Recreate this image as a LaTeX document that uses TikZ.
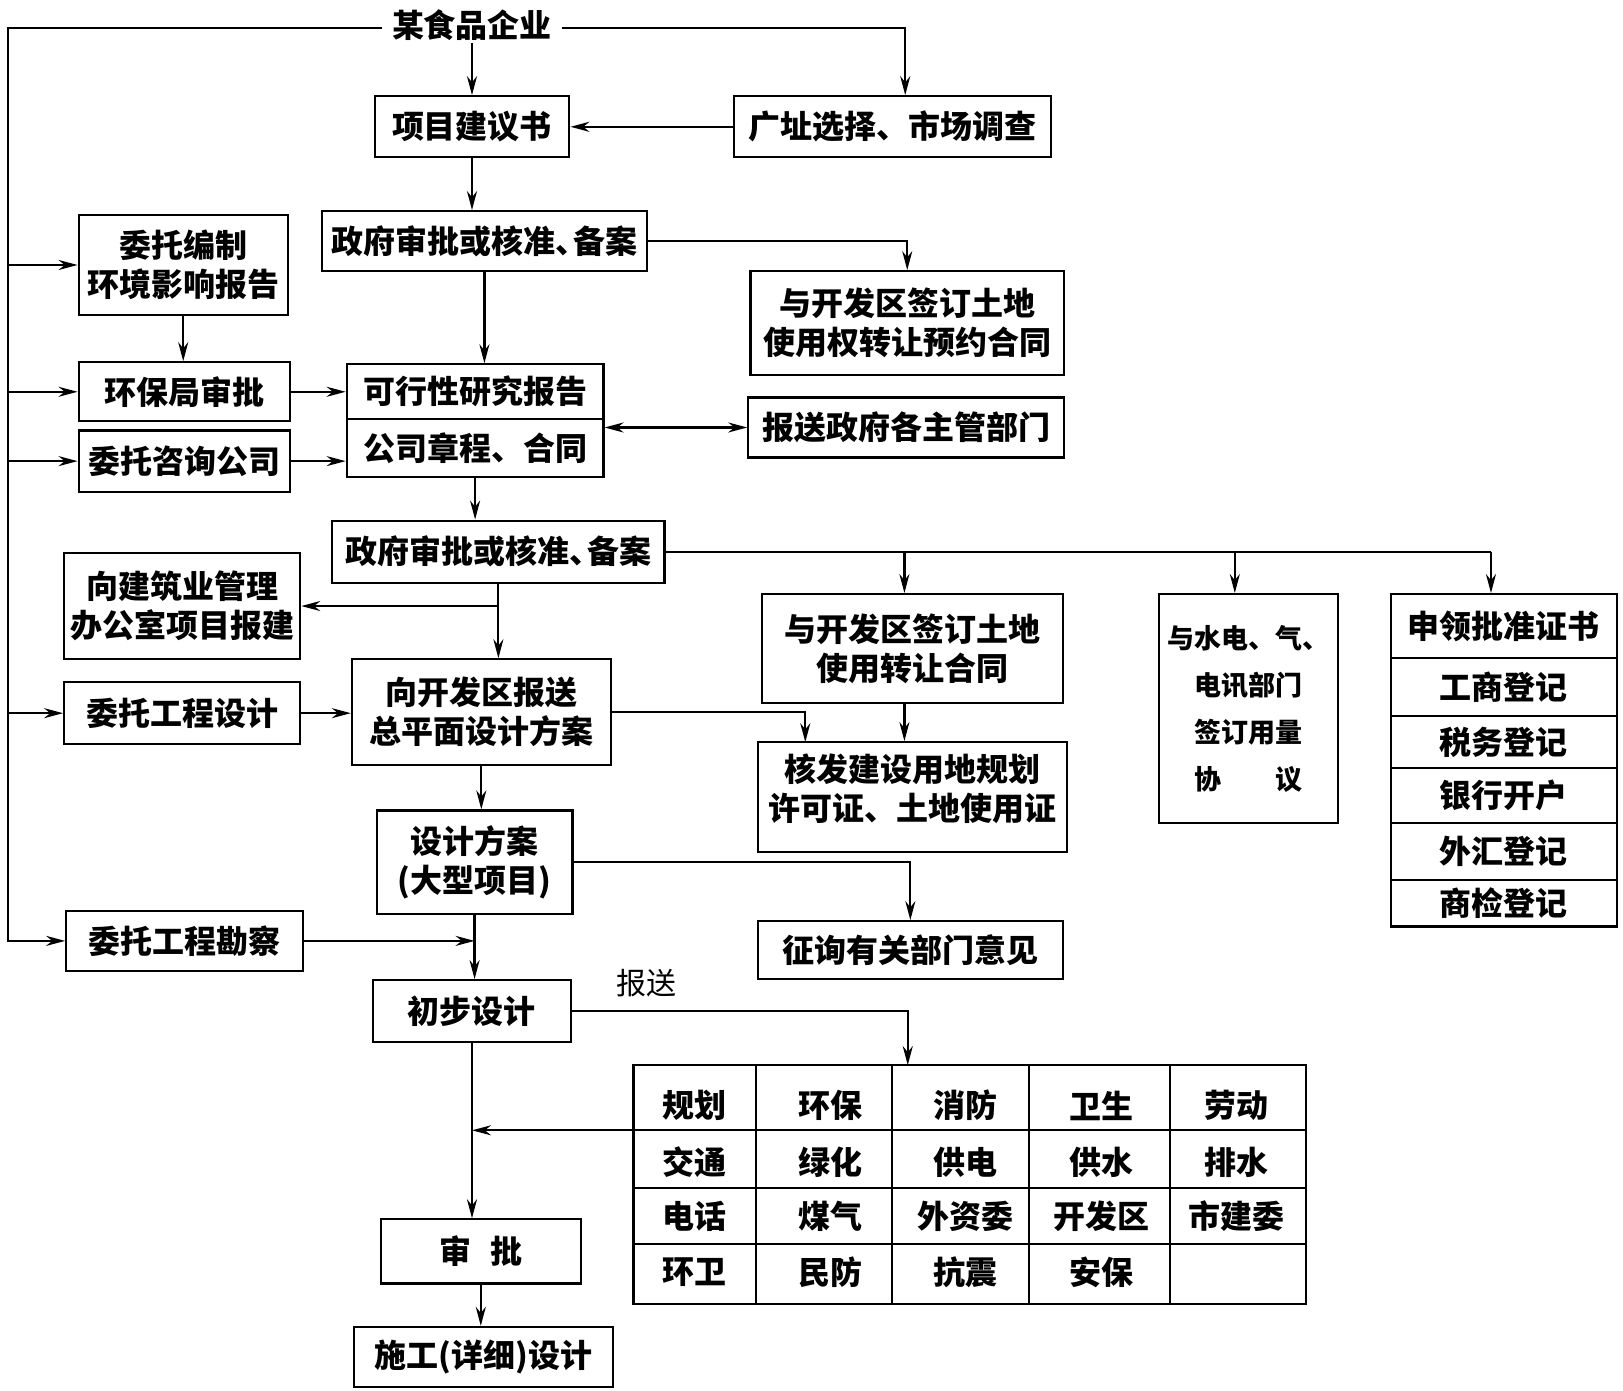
\documentclass[tikz,border=0pt]{standalone}
\usepackage{fontspec}
\setmainfont{Noto Sans CJK SC}
\usetikzlibrary{arrows.meta,fit,calc}
\tikzset{
  box/.style={draw, line width=2.2pt, inner sep=0pt},
  txt/.style={inner sep=0pt, font=\bfseries\fontsize{32}{39}\selectfont},
  mtxt/.style={txt, align=center},
  ln/.style={line width=2.2pt},
  arr/.style={line width=2.2pt, -{Stealth[length=19pt,width=10pt]}},
  arrtwo/.style={line width=2.2pt, {Stealth[length=19pt,width=10pt]}-{Stealth[length=19pt,width=10pt]}},
}
\newcommand{\dun}{、\kern-0.45em}
\begin{document}
\begin{tikzpicture}[x=1.0351pt, y=-1.0351pt]
\fill[white] (0,0) rectangle (1568,1343);
\useasboundingbox (0,0) rectangle (1568,1343);

% title
\node[txt, inner xsep=10pt, inner ysep=2pt] (t) at (456,24) {某食品企业};

% boxes
\node[box, fit={(362,93) (550,152)}] (xm) {};
\node[box, fit={(709,93) (1015,152)}] (gz) {};
\node[box, fit={(311,204) (625,262)}] (g1) {};
\node[box, fit={(725,262) (1028,362)}] (yk1) {};
\node[box, fit={(76,208) (278,304)}] (hp) {};
\node[box, fit={(76,350) (280,407)}] (hb) {};
\node[box, fit={(76,416) (280,475)}] (zx) {};
\node[box, fit={(335,352) (583,405)}] (kx) {};
\node[box, fit={(335,405) (583,461)}] (gs) {};
\node[box, fit={(723,384) (1028,442)}] (bz) {};
\node[box, fit={(321,503) (642,563)}] (g2) {};
\node[box, fit={(62,534) (290,637)}] (jz) {};
\node[box, fit={(62,659) (290,719)}] (wd) {};
\node[box, fit={(340,637) (590,739)}] (xk) {};
\node[box, fit={(736,574) (1027,679)}] (yk2) {};
\node[box, fit={(732,717) (1031,823)}] (hf) {};
\node[box, fit={(1120,574) (1293,795)}] (sd) {};
\node[box, fit={(1344,574) (1562,636)}] (s1) {};
\node[box, fit={(1344,636) (1562,692)}] (s2) {};
\node[box, fit={(1344,692) (1562,742)}] (s3) {};
\node[box, fit={(1344,742) (1562,795)}] (s4) {};
\node[box, fit={(1344,795) (1562,850)}] (s5) {};
\node[box, fit={(1344,850) (1562,895)}] (s6) {};
\node[box, fit={(364,783) (553,883)}] (sj) {};
\node[box, fit={(732,890) (1027,946)}] (zq) {};
\node[box, fit={(64,880) (293,938)}] (kc) {};
\node[box, fit={(360,947) (552,1007)}] (cb) {};
\node[box, fit={(368,1178) (561,1240)}] (sp) {};
\node[box, fit={(342,1282) (592,1340)}] (sg) {};

% box texts
\node[txt] (xmT) at (xm) {项目建议书};
\node[txt] (gzT) at (gz) {广址选择、市场调查};
\node[txt] (g1T) at (g1) {政府审批或核准\dun 备案};
\node[mtxt] (yk1T) at (yk1) {与开发区签订土地\\使用权转让预约合同};
\node[mtxt] (hpT) at (hp) {委托编制\\环境影响报告};
\node[txt] (hbT) at (hb) {环保局审批};
\node[txt] (zxT) at (zx) {委托咨询公司};
\node[txt] (kxT) at (kx) {可行性研究报告};
\node[txt] (gsT) at (gs) {公司章程、合同};
\node[txt] (bzT) at (bz) {报送政府各主管部门};
\node[txt] (g2T) at (g2) {政府审批或核准\dun 备案};
\node[mtxt] (jzT) at (jz) {向建筑业管理\\办公室项目报建};
\node[txt] (wdT) at (wd) {委托工程设计};
\node[mtxt] (xkT) at (xk) {向开发区报送\\总平面设计方案};
\node[mtxt] (yk2T) at (yk2) {与开发区签订土地\\使用转让合同};
\node[mtxt] (hfT) at ([yshift=8pt]hf.center) {核发建设用地规划\\许可证、土地使用证};
\node[mtxt, font=\bfseries\fontsize{27}{47}\selectfont] (sdT) at (sd) {与水电、气、\\电讯部门\\签订用量\\协\hspace{2em}议};
\node[txt] (s1T) at (s1) {申领批准证书};
\node[txt] (s2T) at (s2) {工商登记};
\node[txt] (s3T) at (s3) {税务登记};
\node[txt] (s4T) at (s4) {银行开户};
\node[txt] (s5T) at (s5) {外汇登记};
\node[txt] (s6T) at (s6) {商检登记};
\node[mtxt] (sjT) at (sj) {设计方案\\(大型项目)};
\node[txt] (zqT) at (zq) {征询有关部门意见};
\node[txt] (kcT) at (kc) {委托工程勘察};
\node[txt] (cbT) at (cb) {初步设计};
\node[txt] (spT) at (sp) {审\hspace{0.6em}批};
\node[txt] (sgT) at (sg) {施工(详细)设计};

\node[inner sep=0pt, font=\fontsize{30}{34}\selectfont] (bs) at (625,950) {报送};

% table
\node[box, fit={(612,1029) (1262,1260)}] (tb) {};
\foreach \xx in {730,862,994,1130} \draw[ln] (\xx,1029) -- (\xx,1260);
\foreach \yy in {1092,1148,1202} \draw[ln] (612,\yy) -- (1262,\yy);
\foreach \txt [count=\i] in {规划,环保,消防,卫生,劳动}
  \node[txt] (ra\i) at ({671+131*(\i-1)},1068) {\txt};
\foreach \txt [count=\i] in {交通,绿化,供电,供水,排水}
  \node[txt] (rb\i) at ({671+131*(\i-1)},1123) {\txt};
\foreach \txt [count=\i] in {电话,煤气,外资委,开发区,市建委}
  \node[txt] (rc\i) at ({671+131*(\i-1)},1175) {\txt};
\foreach \txt [count=\i] in {环卫,民防,抗震,安保}
  \node[txt] (rd\i) at ({671+131*(\i-1)},1229) {\txt};

% helper coordinates
\coordinate (L) at (8,27);
\coordinate (gzn) at ([xshift=13pt]gz.north);
\coordinate (ykn) at ([xshift=-8pt]yk2.north);
\coordinate (yks) at ([xshift=-8pt]yk2.south);
\coordinate (sdn) at ([xshift=-14pt]sd.north);
\coordinate (s1n) at ([xshift=-13pt]s1.north);
\coordinate (hfa) at (778,717);
\coordinate (tbt) at (877,1029);
\coordinate (r1) at (612,1092);

% connectors
\draw[arr] (L -| t.west) -- (L) -- (L |- kc.west) -- (kc.west);
\draw[arr] (L |- hp.west) -- (hp.west);
\draw[arr] (L |- hb.west) -- (hb.west);
\draw[arr] (L |- zx.west) -- (zx.west);
\draw[arr] (L |- wd.west) -- (wd.west);
\draw[arr] (L -| t.east) -| (gzn);
\draw[arr] (t.south -| xm.north) -- (xm.north);
\draw[arr] (gz.west) -- (xm.east);
\draw[arr] (xm.south) -- (xm.south |- g1.north);
\draw[arr] (g1.east) -| (yk1.north);
\draw[arr] (hp.south) -- (hp.south |- hb.north);
\draw[arr] (hb.east) -- (hb.east -| kx.west);
\draw[arr] (zx.east) -- (zx.east -| gs.west);
\draw[arr] (g1.south) -- (g1.south |- kx.north);
\draw[arrtwo] (gs.east |- bz.west) -- (bz.west);
\draw[arr] (gs.south) -- (gs.south |- g2.north);
\draw[ln] (g2.east) -- (g2.east -| s1n);
\draw[arr] (g2.east -| ykn) -- (ykn);
\draw[arr] (g2.east -| sdn) -- (sdn);
\draw[arr] (g2.east -| s1n) -- (s1n);
\draw[arr] (g2.south) -- (g2.south |- xk.north);
\draw[arr] (g2.south |- jz.east) -- (jz.east);
\draw[arr] (wd.east) -- (wd.east -| xk.west);
\draw[arr] (xk.east) -| (hfa);
\draw[arr] (yks) -- (yks |- hf.north);
\draw[arr] (xk.south) -- (xk.south |- sj.north);
\draw[arr] (sj.east) -| (zq.north);
\draw[arr] (kc.east) -- (kc.east -| sj.south);
\draw[arr] (sj.south) -- (sj.south |- cb.north);
\draw[arr] (cb.east) -| (tbt);
\draw[arr] (r1) -- (r1 -| cb.south);
\draw[arr] (cb.south) -- (cb.south |- sp.north);
\draw[arr] (sp.south) -- (sp.south |- sg.north);
\end{tikzpicture}
\end{document}
